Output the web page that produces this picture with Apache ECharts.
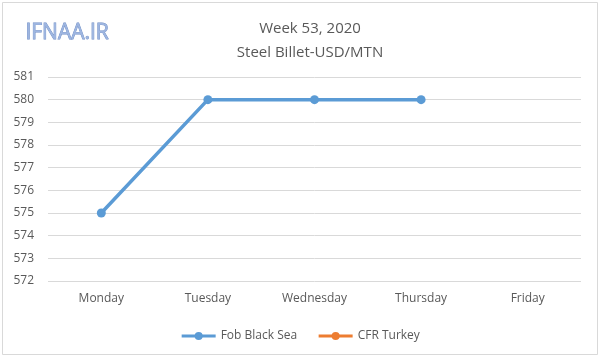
<!DOCTYPE html>
<html><head><meta charset="utf-8">
<script src="https://cdn.jsdelivr.net/npm/echarts@6/dist/echarts.min.js"></script>
<style>html,body{margin:0;padding:0;background:#fff}#c{width:600px;height:360px}</style>
</head><body><div id="c"></div>
<script>
var categories = ['Monday','Tuesday','Wednesday','Thursday','Friday'];
var fobBlackSea = [575, 580, 580, 580, null];
var cfrTurkey = [null, null, null, null, null];
var titleLines = ['Week 53, 2020', 'Steel Billet-USD/MTN'];
var yMin = 572, yMax = 581, yStep = 1;

var chart = echarts.init(document.getElementById('c'), null, {renderer:'canvas'});
chart.setOption({
  animation: false,
  backgroundColor: '#fff',
  graphic: [
    {type:'rect', shape:{x:2.5,y:2.5,width:595,height:352}, style:{fill:'none', stroke:'#d9d9d9', lineWidth:1}},
    {type:'text', left:25, top:22, style:{text:'IFNAA.IR', font:'21px "Open Sans", sans-serif', fill:'#9db5e0', stroke:'#6d8cc4', lineWidth:0.8, shadowColor:'rgba(60,60,90,0.4)', shadowBlur:2, shadowOffsetX:1, shadowOffsetY:1}}
  ],
  title: {
    text: titleLines.join('\n'),
    left: 305, textAlign: 'center', top: 12,
    textStyle: {fontFamily:'"Open Sans", Calibri, sans-serif', fontSize:15, fontWeight:'normal', color:'#595959', lineHeight:24}
  },
  legend: {
    bottom: 13, left: 'center', itemGap: 20, itemWidth: 34, itemHeight: 10,
    lineStyle: {width: 3},
    textStyle: {fontFamily:'"Open Sans", sans-serif', fontSize:12, color:'#595959'},
    data: ['Fob Black Sea','CFR Turkey']
  },
  grid: {left:48, right:19, top:77, bottom:79},
  xAxis: {
    type:'category', data: categories, boundaryGap: true,
    axisLine:{show:false}, axisTick:{show:false},
    axisLabel:{color:'#595959', fontSize:12, fontFamily:'"Open Sans", sans-serif', margin:12}
  },
  yAxis: {
    type:'value', min:yMin, max:yMax, interval:yStep,
    axisLine:{show:false}, axisTick:{show:false},
    axisLabel:{color:'#595959', fontSize:12, fontFamily:'"Open Sans", sans-serif', margin:14},
    splitLine:{lineStyle:{color:'#d9d9d9', width:1}}
  },
  series: [
    {name:'Fob Black Sea', type:'line', data: fobBlackSea, symbol:'circle', symbolSize:9,
     lineStyle:{color:'#5b9bd5', width:3.5}, itemStyle:{color:'#5b9bd5'}},
    {name:'CFR Turkey', type:'line', data: cfrTurkey, symbol:'circle', symbolSize:9,
     lineStyle:{color:'#ed7d31', width:3.5}, itemStyle:{color:'#ed7d31'}}
  ]
});
</script></body></html>
